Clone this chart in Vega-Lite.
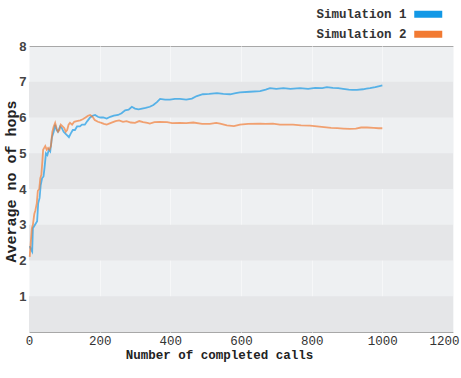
{
  "$schema": "https://vega.github.io/schema/vega-lite/v6.json",
  "width": 424,
  "height": 286,
  "autosize": "none",
  "padding": {"left": 29, "top": 46, "right": 8, "bottom": 46},
  "background": "#ffffff",
  "config": {
    "view": {"fill": "#eef0f2", "stroke": "#a8a8a8", "strokeWidth": 1},
    "axis": {"ticks": false, "domain": false}
  },
  "datasets": {
    "bands": [
      {"lo": 0, "hi": 1}, {"lo": 2, "hi": 3}, {"lo": 4, "hi": 5}, {"lo": 6, "hi": 7}
    ],
    "series": [
      {"calls": 2, "hops": 2.4, "sim": "Simulation 1"},
      {"calls": 6, "hops": 2.3, "sim": "Simulation 1"},
      {"calls": 9, "hops": 2.25, "sim": "Simulation 1"},
      {"calls": 11, "hops": 2.9, "sim": "Simulation 1"},
      {"calls": 14, "hops": 2.95, "sim": "Simulation 1"},
      {"calls": 20, "hops": 3.05, "sim": "Simulation 1"},
      {"calls": 23, "hops": 3.1, "sim": "Simulation 1"},
      {"calls": 26, "hops": 3.6, "sim": "Simulation 1"},
      {"calls": 30, "hops": 3.75, "sim": "Simulation 1"},
      {"calls": 33, "hops": 4.1, "sim": "Simulation 1"},
      {"calls": 37, "hops": 4.3, "sim": "Simulation 1"},
      {"calls": 41, "hops": 4.35, "sim": "Simulation 1"},
      {"calls": 44, "hops": 4.6, "sim": "Simulation 1"},
      {"calls": 48, "hops": 5.0, "sim": "Simulation 1"},
      {"calls": 52, "hops": 4.95, "sim": "Simulation 1"},
      {"calls": 56, "hops": 5.1, "sim": "Simulation 1"},
      {"calls": 60, "hops": 5.05, "sim": "Simulation 1"},
      {"calls": 65, "hops": 5.45, "sim": "Simulation 1"},
      {"calls": 70, "hops": 5.6, "sim": "Simulation 1"},
      {"calls": 74, "hops": 5.8, "sim": "Simulation 1"},
      {"calls": 78, "hops": 5.65, "sim": "Simulation 1"},
      {"calls": 82, "hops": 5.6, "sim": "Simulation 1"},
      {"calls": 88, "hops": 5.75, "sim": "Simulation 1"},
      {"calls": 93, "hops": 5.7, "sim": "Simulation 1"},
      {"calls": 98, "hops": 5.6, "sim": "Simulation 1"},
      {"calls": 103, "hops": 5.55, "sim": "Simulation 1"},
      {"calls": 108, "hops": 5.5, "sim": "Simulation 1"},
      {"calls": 113, "hops": 5.45, "sim": "Simulation 1"},
      {"calls": 118, "hops": 5.55, "sim": "Simulation 1"},
      {"calls": 124, "hops": 5.65, "sim": "Simulation 1"},
      {"calls": 130, "hops": 5.65, "sim": "Simulation 1"},
      {"calls": 136, "hops": 5.75, "sim": "Simulation 1"},
      {"calls": 144, "hops": 5.75, "sim": "Simulation 1"},
      {"calls": 150, "hops": 5.8, "sim": "Simulation 1"},
      {"calls": 158, "hops": 5.8, "sim": "Simulation 1"},
      {"calls": 165, "hops": 5.9, "sim": "Simulation 1"},
      {"calls": 173, "hops": 6.0, "sim": "Simulation 1"},
      {"calls": 180, "hops": 6.05, "sim": "Simulation 1"},
      {"calls": 187, "hops": 6.07, "sim": "Simulation 1"},
      {"calls": 195, "hops": 6.02, "sim": "Simulation 1"},
      {"calls": 202, "hops": 6.0, "sim": "Simulation 1"},
      {"calls": 210, "hops": 6.0, "sim": "Simulation 1"},
      {"calls": 220, "hops": 5.97, "sim": "Simulation 1"},
      {"calls": 230, "hops": 6.02, "sim": "Simulation 1"},
      {"calls": 240, "hops": 6.05, "sim": "Simulation 1"},
      {"calls": 252, "hops": 6.07, "sim": "Simulation 1"},
      {"calls": 262, "hops": 6.12, "sim": "Simulation 1"},
      {"calls": 272, "hops": 6.2, "sim": "Simulation 1"},
      {"calls": 282, "hops": 6.22, "sim": "Simulation 1"},
      {"calls": 291, "hops": 6.3, "sim": "Simulation 1"},
      {"calls": 300, "hops": 6.25, "sim": "Simulation 1"},
      {"calls": 310, "hops": 6.23, "sim": "Simulation 1"},
      {"calls": 320, "hops": 6.25, "sim": "Simulation 1"},
      {"calls": 330, "hops": 6.27, "sim": "Simulation 1"},
      {"calls": 342, "hops": 6.3, "sim": "Simulation 1"},
      {"calls": 352, "hops": 6.35, "sim": "Simulation 1"},
      {"calls": 362, "hops": 6.43, "sim": "Simulation 1"},
      {"calls": 371, "hops": 6.52, "sim": "Simulation 1"},
      {"calls": 385, "hops": 6.5, "sim": "Simulation 1"},
      {"calls": 399, "hops": 6.5, "sim": "Simulation 1"},
      {"calls": 413, "hops": 6.52, "sim": "Simulation 1"},
      {"calls": 427, "hops": 6.52, "sim": "Simulation 1"},
      {"calls": 445, "hops": 6.5, "sim": "Simulation 1"},
      {"calls": 461, "hops": 6.53, "sim": "Simulation 1"},
      {"calls": 475, "hops": 6.6, "sim": "Simulation 1"},
      {"calls": 492, "hops": 6.65, "sim": "Simulation 1"},
      {"calls": 510, "hops": 6.66, "sim": "Simulation 1"},
      {"calls": 532, "hops": 6.68, "sim": "Simulation 1"},
      {"calls": 550, "hops": 6.66, "sim": "Simulation 1"},
      {"calls": 569, "hops": 6.65, "sim": "Simulation 1"},
      {"calls": 585, "hops": 6.68, "sim": "Simulation 1"},
      {"calls": 597, "hops": 6.7, "sim": "Simulation 1"},
      {"calls": 625, "hops": 6.72, "sim": "Simulation 1"},
      {"calls": 654, "hops": 6.74, "sim": "Simulation 1"},
      {"calls": 670, "hops": 6.78, "sim": "Simulation 1"},
      {"calls": 682, "hops": 6.82, "sim": "Simulation 1"},
      {"calls": 700, "hops": 6.8, "sim": "Simulation 1"},
      {"calls": 720, "hops": 6.82, "sim": "Simulation 1"},
      {"calls": 740, "hops": 6.8, "sim": "Simulation 1"},
      {"calls": 767, "hops": 6.82, "sim": "Simulation 1"},
      {"calls": 790, "hops": 6.8, "sim": "Simulation 1"},
      {"calls": 810, "hops": 6.83, "sim": "Simulation 1"},
      {"calls": 830, "hops": 6.82, "sim": "Simulation 1"},
      {"calls": 843, "hops": 6.85, "sim": "Simulation 1"},
      {"calls": 860, "hops": 6.83, "sim": "Simulation 1"},
      {"calls": 875, "hops": 6.82, "sim": "Simulation 1"},
      {"calls": 889, "hops": 6.8, "sim": "Simulation 1"},
      {"calls": 905, "hops": 6.78, "sim": "Simulation 1"},
      {"calls": 915, "hops": 6.77, "sim": "Simulation 1"},
      {"calls": 928, "hops": 6.77, "sim": "Simulation 1"},
      {"calls": 945, "hops": 6.79, "sim": "Simulation 1"},
      {"calls": 955, "hops": 6.81, "sim": "Simulation 1"},
      {"calls": 965, "hops": 6.82, "sim": "Simulation 1"},
      {"calls": 980, "hops": 6.85, "sim": "Simulation 1"},
      {"calls": 992, "hops": 6.88, "sim": "Simulation 1"},
      {"calls": 1000, "hops": 6.9, "sim": "Simulation 1"},
      {"calls": 2, "hops": 2.1, "sim": "Simulation 2"},
      {"calls": 5, "hops": 2.5, "sim": "Simulation 2"},
      {"calls": 8, "hops": 2.9, "sim": "Simulation 2"},
      {"calls": 11, "hops": 3.0, "sim": "Simulation 2"},
      {"calls": 15, "hops": 3.3, "sim": "Simulation 2"},
      {"calls": 18, "hops": 3.4, "sim": "Simulation 2"},
      {"calls": 22, "hops": 3.6, "sim": "Simulation 2"},
      {"calls": 25, "hops": 3.95, "sim": "Simulation 2"},
      {"calls": 29, "hops": 4.0, "sim": "Simulation 2"},
      {"calls": 32, "hops": 4.3, "sim": "Simulation 2"},
      {"calls": 35, "hops": 4.4, "sim": "Simulation 2"},
      {"calls": 38, "hops": 4.8, "sim": "Simulation 2"},
      {"calls": 40, "hops": 5.1, "sim": "Simulation 2"},
      {"calls": 43, "hops": 5.15, "sim": "Simulation 2"},
      {"calls": 46, "hops": 5.2, "sim": "Simulation 2"},
      {"calls": 50, "hops": 5.1, "sim": "Simulation 2"},
      {"calls": 54, "hops": 5.15, "sim": "Simulation 2"},
      {"calls": 58, "hops": 5.1, "sim": "Simulation 2"},
      {"calls": 62, "hops": 5.2, "sim": "Simulation 2"},
      {"calls": 66, "hops": 5.6, "sim": "Simulation 2"},
      {"calls": 70, "hops": 5.75, "sim": "Simulation 2"},
      {"calls": 74, "hops": 5.85, "sim": "Simulation 2"},
      {"calls": 78, "hops": 5.7, "sim": "Simulation 2"},
      {"calls": 82, "hops": 5.6, "sim": "Simulation 2"},
      {"calls": 86, "hops": 5.65, "sim": "Simulation 2"},
      {"calls": 90, "hops": 5.8, "sim": "Simulation 2"},
      {"calls": 95, "hops": 5.75, "sim": "Simulation 2"},
      {"calls": 100, "hops": 5.7, "sim": "Simulation 2"},
      {"calls": 104, "hops": 5.6, "sim": "Simulation 2"},
      {"calls": 108, "hops": 5.65, "sim": "Simulation 2"},
      {"calls": 112, "hops": 5.8, "sim": "Simulation 2"},
      {"calls": 116, "hops": 5.85, "sim": "Simulation 2"},
      {"calls": 122, "hops": 5.8, "sim": "Simulation 2"},
      {"calls": 128, "hops": 5.88, "sim": "Simulation 2"},
      {"calls": 135, "hops": 5.9, "sim": "Simulation 2"},
      {"calls": 145, "hops": 5.92, "sim": "Simulation 2"},
      {"calls": 152, "hops": 5.95, "sim": "Simulation 2"},
      {"calls": 160, "hops": 6.0, "sim": "Simulation 2"},
      {"calls": 167, "hops": 6.05, "sim": "Simulation 2"},
      {"calls": 173, "hops": 6.07, "sim": "Simulation 2"},
      {"calls": 180, "hops": 6.02, "sim": "Simulation 2"},
      {"calls": 186, "hops": 5.93, "sim": "Simulation 2"},
      {"calls": 195, "hops": 5.88, "sim": "Simulation 2"},
      {"calls": 205, "hops": 5.85, "sim": "Simulation 2"},
      {"calls": 212, "hops": 5.82, "sim": "Simulation 2"},
      {"calls": 220, "hops": 5.8, "sim": "Simulation 2"},
      {"calls": 232, "hops": 5.85, "sim": "Simulation 2"},
      {"calls": 245, "hops": 5.9, "sim": "Simulation 2"},
      {"calls": 255, "hops": 5.92, "sim": "Simulation 2"},
      {"calls": 266, "hops": 5.88, "sim": "Simulation 2"},
      {"calls": 276, "hops": 5.9, "sim": "Simulation 2"},
      {"calls": 288, "hops": 5.86, "sim": "Simulation 2"},
      {"calls": 300, "hops": 5.85, "sim": "Simulation 2"},
      {"calls": 312, "hops": 5.9, "sim": "Simulation 2"},
      {"calls": 323, "hops": 5.87, "sim": "Simulation 2"},
      {"calls": 335, "hops": 5.85, "sim": "Simulation 2"},
      {"calls": 342, "hops": 5.83, "sim": "Simulation 2"},
      {"calls": 355, "hops": 5.87, "sim": "Simulation 2"},
      {"calls": 370, "hops": 5.88, "sim": "Simulation 2"},
      {"calls": 391, "hops": 5.87, "sim": "Simulation 2"},
      {"calls": 405, "hops": 5.84, "sim": "Simulation 2"},
      {"calls": 427, "hops": 5.85, "sim": "Simulation 2"},
      {"calls": 445, "hops": 5.84, "sim": "Simulation 2"},
      {"calls": 465, "hops": 5.86, "sim": "Simulation 2"},
      {"calls": 490, "hops": 5.82, "sim": "Simulation 2"},
      {"calls": 512, "hops": 5.82, "sim": "Simulation 2"},
      {"calls": 530, "hops": 5.85, "sim": "Simulation 2"},
      {"calls": 541, "hops": 5.83, "sim": "Simulation 2"},
      {"calls": 560, "hops": 5.78, "sim": "Simulation 2"},
      {"calls": 580, "hops": 5.76, "sim": "Simulation 2"},
      {"calls": 597, "hops": 5.8, "sim": "Simulation 2"},
      {"calls": 620, "hops": 5.82, "sim": "Simulation 2"},
      {"calls": 654, "hops": 5.83, "sim": "Simulation 2"},
      {"calls": 670, "hops": 5.82, "sim": "Simulation 2"},
      {"calls": 690, "hops": 5.83, "sim": "Simulation 2"},
      {"calls": 710, "hops": 5.8, "sim": "Simulation 2"},
      {"calls": 730, "hops": 5.8, "sim": "Simulation 2"},
      {"calls": 747, "hops": 5.8, "sim": "Simulation 2"},
      {"calls": 770, "hops": 5.78, "sim": "Simulation 2"},
      {"calls": 795, "hops": 5.77, "sim": "Simulation 2"},
      {"calls": 815, "hops": 5.75, "sim": "Simulation 2"},
      {"calls": 835, "hops": 5.73, "sim": "Simulation 2"},
      {"calls": 855, "hops": 5.71, "sim": "Simulation 2"},
      {"calls": 872, "hops": 5.7, "sim": "Simulation 2"},
      {"calls": 890, "hops": 5.69, "sim": "Simulation 2"},
      {"calls": 908, "hops": 5.68, "sim": "Simulation 2"},
      {"calls": 925, "hops": 5.69, "sim": "Simulation 2"},
      {"calls": 940, "hops": 5.72, "sim": "Simulation 2"},
      {"calls": 957, "hops": 5.72, "sim": "Simulation 2"},
      {"calls": 975, "hops": 5.71, "sim": "Simulation 2"},
      {"calls": 990, "hops": 5.7, "sim": "Simulation 2"},
      {"calls": 1000, "hops": 5.7, "sim": "Simulation 2"}
    ]
  },
  "layer": [
    {
      "data": {"name": "bands"},
      "mark": {"type": "rect", "color": "#e5e6e8"},
      "encoding": {
        "y": {"field": "lo", "type": "quantitative", "scale": {"domain": [0, 8]}},
        "y2": {"field": "hi"}
      }
    },
    {
      "data": {"name": "series"},
      "mark": {"type": "line", "strokeWidth": 1.8, "opacity": 0.68, "interpolate": "linear"},
      "encoding": {
        "x": {
          "field": "calls",
          "type": "quantitative",
          "scale": {"domain": [0, 1200], "nice": false},
          "axis": {
            "values": [0, 200, 400, 600, 800, 1000, 1200],
            "format": "d",
            "title": "Number of completed calls",
            "titleFont": "Liberation Mono",
            "titleFontSize": 12.5,
            "titleFontWeight": "bold",
            "titleColor": "#222222",
            "titleX": 190,
            "titleY": 22,
            "titleBaseline": "middle",
            "titleAnchor": null,
            "labelFont": "Liberation Mono",
            "labelFontSize": 12.5,
            "labelColor": "#333333",
            "labelPadding": 2,
            "labelFlush": false,
            "labelOffset": {"condition": {"test": "datum.value == 1200", "value": -9}, "value": 0},
            "grid": true,
            "gridColor": "#f6f7f8",
            "gridWidth": 1
          }
        },
        "y": {
          "field": "hops",
          "type": "quantitative",
          "scale": {"domain": [0, 8], "nice": false},
          "axis": {
            "values": [1, 2, 3, 4, 5, 6, 7, 8],
            "title": "Average no of hops",
            "titleFont": "Liberation Mono",
            "titleFontSize": 15,
            "titleFontWeight": "bold",
            "titleColor": "#222222",
            "titleX": -19,
            "titleY": 135,
            "titleAngle": -90,
            "titleBaseline": "middle",
            "titleAlign": "center",
            "labelFont": "Liberation Sans",
            "labelFontSize": 13,
            "labelFontWeight": "bold",
            "labelColor": "#444444",
            "labelPadding": 3,
            "grid": false
          }
        },
        "color": {
          "field": "sim",
          "type": "nominal",
          "scale": {"domain": ["Simulation 1", "Simulation 2"], "range": ["#1298e6", "#f27a32"]},
          "legend": {
            "title": null,
            "orient": "none",
            "legendX": 393,
            "legendY": -38,
            "padding": 0,
            "symbolType": "M-4,-1H4V1H-4Z",
            "symbolSize": 49,
            "symbolStrokeWidth": 0,
            "symbolOpacity": 1,
            "labelAlign": "right",
            "labelOffset": -28,
            "labelFont": "Liberation Mono",
            "labelFontSize": 12.5,
            "labelFontWeight": "bold",
            "labelColor": "#333333",
            "labelBaseline": "middle",
            "rowPadding": 7,
            "encode": {
              "symbols": {
                "update": {
                  "fill": {"scale": "color", "field": "value"},
                  "stroke": {"value": "transparent"},
                  "strokeWidth": {"value": 0}
                }
              }
            }
          }
        }
      }
    }
  ]
}
